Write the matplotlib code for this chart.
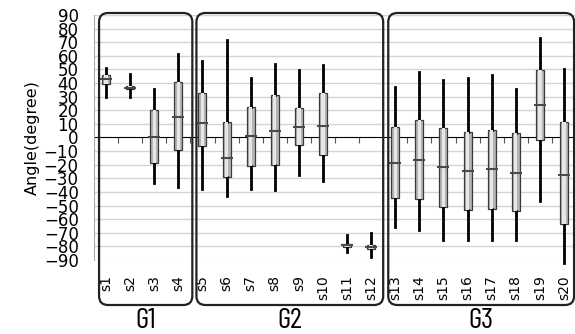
import numpy as np
import matplotlib
matplotlib.use("Agg")
import matplotlib.pyplot as plt
from matplotlib.patches import FancyBboxPatch

# box statistics per sample (degrees)
samples = [f"s{i}" for i in range(1, 21)]
q1 = [39, 35.3, -18.6, -9.3, -6.6, -28.9, -20.6, -19.9, -5.4, -13.2,
      -80.4, -81.6, -44.4, -44.9, -51.2, -52.9, -52.2, -53.7, -2.2, -63.5]
q3 = [45.6, 37.7, 19.9, 41, 32.4, 11.3, 22.3, 31.1, 21.6, 32.4,
      -77.9, -78.7, 7.8, 12.5, 6.9, 4.2, 5.6, 3.2, 49.8, 11.5]
med = [43, 36.5, 0.5, 15, 10.8, -14.9, 1, 5.1, 7.6, 8.3,
       -79.2, -80.1, -19.1, -16.2, -21.8, -24.8, -22.8, -26, 23.8, -27.2]
whis_lo = [30, 29.6, -33.3, -36, -37.7, -43, -37.7, -38.7, -27.2, -32.1,
           -84, -87.7, -65.7, -68.1, -75, -75, -75.5, -75.5, -46.8, -92.5]
whis_hi = [51, 47, 36, 61.5, 56, 71.3, 43.9, 53.7, 49.3, 53,
           -71.3, -70, 37, 48, 42.6, 43.9, 45.8, 36, 73.3, 50.5]

groups = ["G1", "G2", "G3"]
group_members = [(0, 3), (4, 11), (12, 19)]
group_pad = [(-0.29, 0.58), (-0.25, 0.5), (-0.29, 0.42)]

yticks = list(range(-90, 91, 10))

fig = plt.figure(figsize=(5.75, 3.34), dpi=100)
ax = fig.add_axes([94 / 575, 74 / 334, 482 / 575, 245 / 334])

pos = np.arange(len(samples))
stats = [dict(med=m, q1=a, q3=b, whislo=lo, whishi=hi, label=s)
         for s, m, a, b, lo, hi in zip(samples, med, q1, q3, whis_lo, whis_hi)]

for y in yticks:
    if y == -90:
        ax.axhline(y, color="#cccccc", lw=0.8, ls=(0, (2, 2)), zorder=0)
    elif y != 0:
        ax.axhline(y, color="#d4d4d4", lw=1, zorder=0)

ax.bxp(stats, positions=pos, widths=0.33, showcaps=False, showfliers=False,
       patch_artist=True,
       boxprops=dict(facecolor="#b4b4b4", edgecolor="#3a3a3a", lw=0.9),
       whiskerprops=dict(color="black", lw=2, clip_on=False),
       medianprops=dict(visible=False), zorder=3)
# lighter centre to mimic the shaded bars
inner = [dict(s, whislo=s["q1"], whishi=s["q3"]) for s in stats]
ax.bxp(inner, positions=pos, widths=0.14, showcaps=False, showfliers=False,
       patch_artist=True,
       boxprops=dict(facecolor="#e6e6e6", edgecolor="none", lw=0),
       whiskerprops=dict(visible=False),
       medianprops=dict(visible=False), zorder=4)
ax.hlines(med, pos - 0.25, pos + 0.25, color="#4a4a4a", lw=1.5, zorder=5)

ax.set_xlim(-0.5, len(samples) - 0.5)
ax.set_ylim(-90, 90)
ax.set_yticks(yticks)
ax.set_yticklabels([str(v).replace("-", "\u2212") for v in yticks], fontsize=12)
ax.tick_params(axis="y", length=0, pad=11)
ax.set_xticks(pos)
ax.set_xticklabels(samples, rotation=90, fontsize=10, va="top")
ax.tick_params(axis="x", length=0, pad=11)
for sp in ["top", "right", "bottom"]:
    ax.spines[sp].set_visible(False)
ax.spines["left"].set_color("#aaaaaa")
ax.set_ylabel("Angle(degree)", fontsize=11.5, labelpad=3)

zero = ax.secondary_xaxis(0.5)
zero.spines["bottom"].set_color("#777777")
zero.set_xticks(pos[:-1] + 0.5)
zero.set_xticklabels([])
zero.tick_params(axis="x", direction="in", length=4, color="#555555")

# rounded group frames
fig.canvas.draw()
to_px = ax.transData.transform
top_in = (334 - 13) / 100
bot_in = (334 - 305) / 100
for name, (i0, i1), (p0, p1) in zip(groups, group_members, group_pad):
    x0 = to_px((i0 + p0, 0))[0] / fig.dpi
    x1 = to_px((i1 + p1, 0))[0] / fig.dpi
    box = FancyBboxPatch((x0, bot_in), x1 - x0, top_in - bot_in,
                         boxstyle="round,pad=0,rounding_size=0.09",
                         transform=fig.dpi_scale_trans, fill=False,
                         ec="#222222", lw=1.6, zorder=10)
    fig.patches.append(box)
    fig.text((x0 + x1) / 2 / 5.75, (334 - 318) / 334, name,
             ha="center", va="center_baseline", fontsize=21,
             family=["Barlow Condensed", "DejaVu Sans"])

fig.savefig("out.png", dpi=100)
